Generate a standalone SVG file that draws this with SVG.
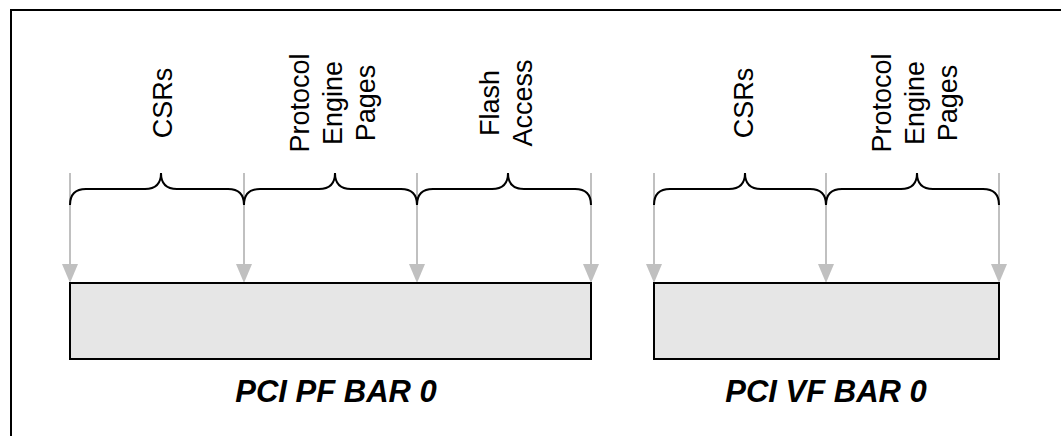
<svg xmlns="http://www.w3.org/2000/svg" width="1061" height="436" viewBox="0 0 1061 436">
<style>
.frame{fill:none;stroke:#000;stroke-width:2}
.bar{fill:#e6e6e6;stroke:#000;stroke-width:2}
.arr{stroke:#c0c0c0;stroke-width:2;fill:none}
.brace{fill:none;stroke:#000;stroke-width:2}
.lbl{font-family:"Liberation Sans",Arial,sans-serif;font-size:27px;fill:#000;text-anchor:middle}
.title{font-family:"Liberation Sans",Arial,sans-serif;font-size:31px;font-weight:bold;font-style:italic;fill:#000;text-anchor:middle}
</style>
<defs>
<marker id="ah" markerUnits="userSpaceOnUse" markerWidth="16" markerHeight="20" refX="8" refY="19" orient="auto" viewBox="0 0 16 20">
<path d="M0,0 L16,0 L8,19 Z" fill="#c0c0c0" transform="rotate(0)"/>
</marker>
</defs>
<rect class="frame" x="11" y="10" width="1070" height="450"/>
<g id="connectors">
<g id="arrows">
<polygon points="62,264 78,264 70,283" fill="#c0c0c0"/>
<polygon points="236,264 252,264 244,283" fill="#c0c0c0"/>
<polygon points="409,264 425,264 417,283" fill="#c0c0c0"/>
<polygon points="583,264 599,264 591,283" fill="#c0c0c0"/>
<polygon points="646,264 662,264 654,283" fill="#c0c0c0"/>
<polygon points="818,264 834,264 826,283" fill="#c0c0c0"/>
<polygon points="991,264 1007,264 999,283" fill="#c0c0c0"/>
<line class="arr" x1="70" y1="173" x2="70" y2="266"/>
<line class="arr" x1="244" y1="173" x2="244" y2="266"/>
<line class="arr" x1="417" y1="173" x2="417" y2="266"/>
<line class="arr" x1="591" y1="173" x2="591" y2="266"/>
<line class="arr" x1="654" y1="173" x2="654" y2="266"/>
<line class="arr" x1="826" y1="173" x2="826" y2="266"/>
<line class="arr" x1="999" y1="173" x2="999" y2="266"/>
</g>
<g id="braces">
<path class="brace" d="M70,205 Q70,189 86,189 L145,189 Q161,189 161,173 Q161,189 177,189 L228,189 Q244,189 244,205"/>
<path class="brace" d="M244,205 Q244,189 260,189 L319,189 Q335,189 335,173 Q335,189 351,189 L401,189 Q417,189 417,205"/>
<path class="brace" d="M417,205 Q417,189 433,189 L492,189 Q508,189 508,173 Q508,189 524,189 L575,189 Q591,189 591,205"/>
<path class="brace" d="M654,205 Q654,189 670,189 L729,189 Q745,189 745,173 Q745,189 761,189 L810,189 Q826,189 826,205"/>
<path class="brace" d="M826,205 Q826,189 842,189 L901,189 Q917,189 917,173 Q917,189 933,189 L983,189 Q999,189 999,205"/>
</g>
</g>
<g id="pf-csrs-label"><text class="lbl" transform="rotate(-90)" x="-103" y="172">CSRs</text></g>
<g id="pf-protocol-label"><text class="lbl" transform="rotate(-90)" x="-103" y="309">Protocol<tspan x="-103" dy="33">Engine</tspan><tspan x="-103" dy="33">Pages</tspan></text></g>
<g id="pf-flash-label"><text class="lbl" transform="rotate(-90)" x="-103" y="499">Flash<tspan x="-103" dy="33">Access</tspan></text></g>
<g id="vf-csrs-label"><text class="lbl" transform="rotate(-90)" x="-103" y="753">CSRs</text></g>
<g id="vf-protocol-label"><text class="lbl" transform="rotate(-90)" x="-103" y="891">Protocol<tspan x="-103" dy="33">Engine</tspan><tspan x="-103" dy="33">Pages</tspan></text></g>
<g id="pf-bar">
<rect class="bar" x="70" y="283" width="521" height="76"/>
<text class="title" x="336" y="402">PCI PF BAR 0</text>
</g>
<g id="vf-bar">
<rect class="bar" x="654" y="283" width="345" height="76"/>
<text class="title" x="826" y="402">PCI VF BAR 0</text>
</g>
</svg>
